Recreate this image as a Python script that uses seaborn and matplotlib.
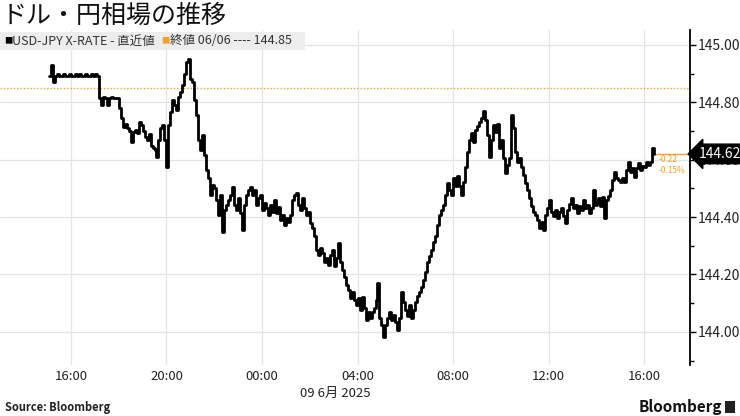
import matplotlib
matplotlib.use("Agg")
import matplotlib.pyplot as plt
import matplotlib.dates as mdates
import matplotlib.transforms as mtransforms
from matplotlib.patches import Rectangle
from matplotlib.ticker import MultipleLocator, FormatStrFormatter
import pandas as pd
import seaborn as sns

# ── data (5-minute ticks) ─────────────────────────────────────────
START = "2025-06-08 15:05"
prices = [
    # 15:05 - 17:05, quiet open
    144.89, 144.93, 144.87, 144.89, 144.90, 144.89, 144.89, 144.90, 144.89, 144.89,
    144.90, 144.89, 144.89, 144.90, 144.89, 144.90, 144.89, 144.89, 144.90, 144.89,
    144.89, 144.90, 144.89, 144.90, 144.89,
    # drop
    144.815, 144.79, 144.82, 144.815, 144.79, 144.815, 144.82, 144.815, 144.815, 144.815,
    144.78, 144.745, 144.714, 144.725, 144.711, 144.70, 144.662, 144.697, 144.704, 144.693,
    144.73, 144.72, 144.70, 144.679, 144.669, 144.69, 144.648, 144.64, 144.634, 144.61,
    144.669, 144.711, 144.721, 144.669, 144.575, 144.72, 144.767, 144.808, 144.79, 144.774,
    144.82, 144.836, 144.861, 144.90, 144.941, 144.951, 144.88, 144.87, 144.808, 144.756,
    144.669, 144.634, 144.686, 144.617, 144.564, 144.537, 144.477, 144.512, 144.502, 144.46,
    144.408, 144.477, 144.348, 144.425, 144.443, 144.46, 144.477, 144.505, 144.443, 144.425,
    144.467, 144.415, 144.355, 144.443, 144.477, 144.495, 144.505, 144.477, 144.495, 144.443,
    144.467, 144.477, 144.425, 144.45, 144.432, 144.408, 144.443, 144.418, 144.46, 144.415,
    144.436, 144.39, 144.408, 144.373, 144.397, 144.383, 144.408, 144.46, 144.477, 144.484,
    144.443, 144.425, 144.467, 144.432, 144.408, 144.418, 144.38, 144.362, 144.335, 144.286,
    144.268, 144.293, 144.275, 144.244, 144.258, 144.233, 144.268, 144.286, 144.23, 144.258,
    144.31, 144.244, 144.216, 144.192, 144.164, 144.146, 144.119, 144.139, 144.112, 144.094,
    144.119, 144.077, 144.122, 144.084, 144.042, 144.07, 144.049, 144.07, 144.084, 144.112,
    144.171, 144.049, 144.024, 143.983, 144.024, 144.049, 144.07, 144.042, 144.059, 144.035,
    144.007, 144.049, 144.139, 144.105, 144.077, 144.056, 144.094, 144.049, 144.077, 144.105,
    144.126, 144.139, 144.157, 144.181, 144.209, 144.244, 144.265, 144.286, 144.314, 144.335,
    144.373, 144.408, 144.425, 144.443, 144.477, 144.519, 144.495, 144.477, 144.537, 144.509,
    144.544, 144.509, 144.477, 144.523, 144.575, 144.627, 144.669, 144.693, 144.662, 144.704,
    144.718, 144.732, 144.746, 144.77, 144.739, 144.686, 144.61, 144.669, 144.721, 144.697,
    144.725, 144.641, 144.669, 144.606, 144.554, 144.582, 144.606, 144.756, 144.711, 144.627,
    144.592, 144.606, 144.575, 144.547, 144.519, 144.495, 144.467, 144.439, 144.418, 144.408,
    144.39, 144.362, 144.383, 144.355, 144.408, 144.432, 144.46, 144.418, 144.404, 144.425,
    144.397, 144.418, 144.432, 144.404, 144.38, 144.425, 144.446, 144.467, 144.432, 144.443,
    144.415, 144.439, 144.425, 144.46, 144.432, 144.443, 144.415, 144.432, 144.495, 144.443,
    144.45, 144.467, 144.439, 144.47, 144.397, 144.46, 144.474, 144.495, 144.53, 144.558,
    144.537, 144.53, 144.523, 144.537, 144.523, 144.564, 144.592, 144.558, 144.571, 144.54,
    144.571, 144.589, 144.564, 144.578, 144.575, 144.592, 144.582, 144.592, 144.641, 144.62,
]

prev_close = 144.85
prev_close_label = "終値 06/06 ---- 144.85"
series_label = "USD-JPY X-RATE - 直近値"
last_label = "144.62"
change_abs = "-0.22"
change_pct = "-0.15%"

x_ticks = ["2025-06-08 16:00", "2025-06-08 20:00", "2025-06-09 00:00", "2025-06-09 04:00",
           "2025-06-09 08:00", "2025-06-09 12:00", "2025-06-09 16:00"]
x_range = ["2025-06-08 13:02", "2025-06-09 17:54"]
y_ticks = [144.0, 144.2, 144.4, 144.6, 144.8, 145.0]
y_range = [143.885, 145.052]

ORANGE = "#f5a02a"
GRID = "#e4e4e4"

df = pd.DataFrame({
    "time": pd.date_range(START, periods=len(prices), freq="5min"),
    "price": prices,
})

# ── style ─────────────────────────────────────────────────────────
sns.set_style("white")
plt.rcParams["font.family"] = ["Noto Sans CJK JP", "DejaVu Sans"]

fig = plt.figure(figsize=(7.4, 4.16), dpi=100)
ax = fig.add_axes([0.0, 0.123, 0.932, 0.805])

sns.lineplot(data=df, x="time", y="price", color="black", lw=2.0,
             drawstyle="steps-post", estimator=None, ax=ax, zorder=4)

ax.set_xlim(pd.to_datetime(x_range[0]), pd.to_datetime(x_range[1]))
ax.set_ylim(*y_range)

# previous close (dotted) and last price stub
ax.axhline(prev_close, color=ORANGE, ls=(0, (1, 1.4)), lw=1.0, zorder=3)
last_t = df["time"].iloc[-1]
last_p = df["price"].iloc[-1]
ax.plot([last_t, pd.to_datetime(x_range[1])], [last_p, last_p], color=ORANGE, lw=1.0, zorder=3)
ax.annotate(change_abs, xy=(last_t, last_p), xytext=(3, -1), textcoords="offset points",
            color=ORANGE, fontsize=6, va="top", ha="left")
ax.annotate(change_pct, xy=(last_t, last_p), xytext=(3, -8.5), textcoords="offset points",
            color=ORANGE, fontsize=6, va="top", ha="left")

# axes / ticks
ax.set_xticks(pd.to_datetime(x_ticks))
ax.xaxis.set_major_formatter(mdates.DateFormatter("%H:%M"))
ax.set_yticks(y_ticks)
ax.yaxis.set_minor_locator(MultipleLocator(0.1))
ax.yaxis.set_major_formatter(FormatStrFormatter("%.2f"))
ax.yaxis.tick_right()
ax.tick_params(axis="y", which="major", direction="out", length=4, width=1,
               color="black", labelsize=10, pad=2, labelcolor="#222222")
ax.tick_params(axis="y", which="minor", direction="out", length=3, width=1, color="black")
ax.tick_params(axis="x", length=0, labelsize=9.5, pad=4, labelcolor="#222222")
ax.grid(True, which="major", color=GRID, lw=0.9)
for s in ["left", "top", "bottom"]:
    ax.spines[s].set_visible(False)
ax.spines["right"].set_color("black")
ax.spines["right"].set_linewidth(1.3)
ax.set_xlabel("")
ax.set_ylabel("")

# last value tag on the axis (covers the 144.60 label, as in the original)
trans = mtransforms.blended_transform_factory(ax.transAxes, ax.transData)
ax.text(1.0 + 9 / 690, last_p, last_label, transform=trans, color="white",
        fontsize=10, va="center", ha="left", zorder=10, clip_on=False,
        bbox=dict(boxstyle="larrow,pad=0.2", fc="black", ec="black"))

# legend strip
fig.patches.append(Rectangle((0.0, 1 - 50 / 416), 305 / 740, 18 / 416,
                             transform=fig.transFigure, fc="#ededed", ec="none", zorder=5))
ly = 1 - 41 / 416
fig.text(4 / 740, ly, "■", color="black", fontsize=6, va="center", zorder=6)
fig.text(12 / 740, ly, series_label, color="#333333", fontsize=9.0, va="center", zorder=6)
fig.text(161 / 740, ly, "■", color=ORANGE, fontsize=6, va="center", zorder=6)
fig.text(170 / 740, ly, prev_close_label, color="#333333", fontsize=9.0, va="center", zorder=6)

# titles and credits
fig.text(2 / 740, 1 - 16 / 416, "ドル・円相場の推移", fontsize=18, va="center", color="#111111")
fig.text(335 / 740, 1 - 393 / 416, "09 6月 2025", fontsize=9.5, ha="center", va="center",
         color="#222222")
fig.text(5 / 740, 1 - 408 / 416, "Source: Bloomberg", fontsize=8, fontweight="bold",
         va="center", color="#222222")
fig.text(722 / 740, 1 - 407 / 416, "Bloomberg", fontsize=11, fontweight="bold",
         ha="right", va="center", color="#111111")
fig.patches.append(Rectangle((725 / 740, 1 - 413 / 416), 10 / 740, 12 / 416,
                             transform=fig.transFigure, fc="#222222", ec="none"))

fig.savefig("out.png", dpi=100, facecolor="white")
